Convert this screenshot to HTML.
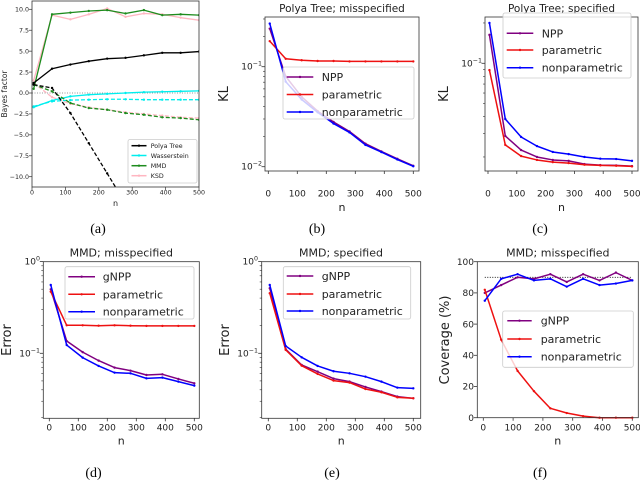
<!DOCTYPE html>
<html><head><meta charset="utf-8"><style>
html,body{margin:0;padding:0;background:#fff;}
svg{display:block;font-family:"DejaVu Sans","Liberation Sans",sans-serif;}
.cap{font-family:"Liberation Serif",serif;font-size:14px;}
</style></head><body>
<svg id="fig" width="640" height="480" viewBox="0 0 640 480" xmlns="http://www.w3.org/2000/svg">
<defs>
<clipPath id="clipA"><rect x="32" y="1" width="167" height="186"/></clipPath>
</defs>
</svg>
<script>
// ---------- data ----------
const N = [5,60,115,170,225,280,335,390,445,500];
// panel (a)
const aPolyaSolid  = [1.2,2.9,3.4,3.8,4.1,4.2,4.5,4.8,4.8,4.95];
const aPolyaDashed = [1.0,0.6,-2.4,-6.0,-9.6,-13.2,-16.8,-20.4,-24.0,-27.6];
const aWassSolid   = [-1.7,-0.9,-0.4,-0.2,-0.1,0.0,0.1,0.15,0.2,0.25];
const aWassDashed  = [-1.6,-1.0,-0.85,-0.8,-0.75,-0.75,-0.8,-0.8,-0.8,-0.8];
const aMmdSolid    = [0.5,9.4,9.6,9.8,9.9,9.5,9.9,9.3,9.4,9.3];
const aMmdDashed   = [1.0,0.2,-1.2,-1.8,-2.0,-2.4,-2.6,-2.9,-3.0,-3.2];
const aKsdSolid    = [1.5,9.3,8.8,9.4,10.1,9.1,9.5,9.4,9.0,8.7];
const aKsdDashed   = [1.2,-0.5,-1.3,-1.7,-2.0,-2.3,-2.5,-2.7,-2.9,-3.0];
const aYTicks = [10,7.5,5,2.5,0,-2.5,-5,-7.5,-10];
const aYTickLabels = ["10.0","7.5","5.0","2.5","0.0","\u22122.5","\u22125.0","\u22127.5","\u221210.0"];
const xTicks = [0,100,200,300,400,500];
// panel (b)
const bNPP  = [0.24,0.08,0.05,0.036,0.028,0.0225,0.017,0.0142,0.012,0.0102];
const bPar  = [0.18,0.12,0.116,0.114,0.114,0.113,0.113,0.113,0.113,0.113];
const bNon  = [0.27,0.071,0.047,0.035,0.027,0.022,0.0165,0.014,0.0118,0.0101];
// panel (c)
const cNPP  = [0.163,0.0287,0.0225,0.020,0.019,0.0187,0.0177,0.0174,0.0173,0.0171];
const cPar  = [0.089,0.0246,0.0203,0.019,0.0183,0.018,0.0175,0.0173,0.0172,0.017];
const cNon  = [0.2,0.0384,0.0282,0.0241,0.0218,0.021,0.020,0.0194,0.0193,0.0187];
// panel (d)
const dNPP  = [0.499,0.136,0.103,0.0832,0.0698,0.0647,0.058,0.059,0.0525,0.0471];
const dPar  = [0.47,0.202,0.202,0.2,0.202,0.2,0.199,0.199,0.199,0.199];
const dNon  = [0.556,0.123,0.0897,0.0728,0.0615,0.0605,0.0533,0.0543,0.0491,0.0444];
// panel (e)
const eNPP  = [0.512,0.111,0.0746,0.0631,0.053,0.0491,0.043,0.0382,0.0337,0.0323];
const ePar  = [0.452,0.109,0.0733,0.0596,0.0504,0.0479,0.0408,0.0376,0.0331,0.0323];
const eNon  = [0.556,0.120,0.0904,0.0728,0.0637,0.0605,0.0556,0.0491,0.0422,0.0415];
// panel (f)
const fNPP  = [80,85,90,89,92,87,92,88,93,88];
const fPar  = [82,50,30,17,6,3,1,0,0,0];
const fNon  = [75,89,92,88,89,84,89,85,86,88];
const fYTicks = [0,20,40,60,80,100];
const fTarget = [90];

// ---------- helpers ----------
const NS = "http://www.w3.org/2000/svg";
const fig = document.getElementById('fig');
function mk(tag, attrs, parent){
  const e = document.createElementNS(NS, tag);
  for (const k in attrs) e.setAttribute(k, attrs[k]);
  (parent||fig).appendChild(e);
  return e;
}
function linX(x0, x1){ return v => x0 + (x1-x0)*v/500; }
function linY(py0, v0, py1, v1){ return v => py0 + (py1-py0)*(v-v0)/(v1-v0); }
function logY(pyRef, decade){ return v => pyRef - decade*Math.log10(v/0.1); }

const PURPLE="#800080", RED="#ee1111", BLUE="#0000ff";

function frame(g, box){
  const r = mk('rect',{x:box.l,y:box.t,width:box.r-box.l,height:box.b-box.t,fill:'none',stroke:'#333','stroke-width':0.8},g);
  
  
}
function xAxis(g, box, X, fs, labelY, nY){
  xTicks.forEach((t,i)=>{
    const x = X(t);
    const tk = mk('line',{x1:x,x2:x,y1:box.b,y2:box.b+3,stroke:'#333','stroke-width':0.8},g);
    
    
    const tl = mk('text',{x:x,y:labelY,'font-size':fs,'text-anchor':'middle',fill:'#222'},g);
    
    
    tl.textContent = String(t);
  });
  const nl = mk('text',{x:(box.l+box.r)/2,y:nY,'font-size':fs+2,'text-anchor':'middle',fill:'#222'},g);
  
  
  nl.textContent = 'n';
}
function logTicks(g, box, Y, majors, minors, labelX, fs){
  majors.forEach(m=>{
    const y = Y(Math.pow(10,m));
    const tk = mk('line',{x1:box.l-3.5,x2:box.l,y1:y,y2:y,stroke:'#333','stroke-width':0.8},g);
    
    
    const tl = mk('text',{x:labelX,y:y+3,'font-size':fs,'text-anchor':'end',fill:'#222'},g);
    
    
    tl.appendChild(document.createTextNode('10'));
    const sp = mk('tspan',{dy:-4,'font-size':fs*0.7},tl);
    sp.textContent = m===0 ? '0' : '\u2212'+(-m);
  });
  minors.forEach(v=>{
    const y = Y(v);
    if (y < box.t || y > box.b) return;
    const tk = mk('line',{x1:box.l-2,x2:box.l,y1:y,y2:y,stroke:'#333','stroke-width':0.6},g);
    
    
  });
}
function series(g, X, Y, vals, color, name, dash, w, clip){
  const d = vals.map((v,i)=>(i?'L':'M')+X(N[i]).toFixed(2)+' '+Y(v).toFixed(2)).join(' ');
  const attrs = {d:d,fill:'none',stroke:color,'stroke-width':w||1.5,'stroke-linejoin':'round'};
  if (dash) attrs['stroke-dasharray']=dash;
  if (clip) attrs['clip-path']=clip;
  const p = mk('path',attrs,g);
  
  
  const mg = mk('g',{fill:color, 'clip-path':clip||''},g);
  
  
  vals.forEach((v,i)=>{
    const c = mk('circle',{cx:X(N[i]),cy:Y(v),r:1.2},mg);
    
    
  });
}
function legend(g, box, rows, entries, hx0, hx1, tx, fs){
  const r = mk('rect',{x:box.l,y:box.t,width:box.r-box.l,height:box.b-box.t,rx:2,fill:'#fff','fill-opacity':0.8,stroke:'#ccc','stroke-width':0.8},g);
  
  
  entries.forEach((en,i)=>{
    const y = rows[i];
    const eg = mk('g',{},g);
    
    
    const ln = mk('line',{x1:hx0,x2:hx1,y1:y,y2:y,stroke:en.color,'stroke-width':1.5},eg);
    
    
    const c = mk('circle',{cx:(hx0+hx1)/2,cy:y,r:1.2,fill:en.color},eg);
    
    
    const t = mk('text',{x:tx,y:y+fs*0.36,'font-size':fs,fill:'#222'},eg);
    
    
    t.textContent = en.label;
  });
}
function title(g, x, y, txt, fs){
  const t = mk('text',{x:x,y:y,'font-size':fs,'text-anchor':'middle',fill:'#222'},g);
  
  
  t.textContent = txt;
}
function ylabel(g, x, y, txt, fs){
  const t = mk('text',{x:x,y:y,'font-size':fs,'text-anchor':'middle',fill:'#222',transform:'rotate(-90 '+x+' '+y+')'},g);
  
  
  t.textContent = txt;
}
function caption(x, y, txt){
  const t = mk('text',{x:x,y:y,'text-anchor':'middle',fill:'#000','class':'cap'});
  
  
  t.textContent = txt;
}
const minorsAll = [];
for (let d=-3; d<=0; d++) for (let k=2;k<=9;k++) minorsAll.push(k*Math.pow(10,d));
const three = [{label:'NPP',color:PURPLE},{label:'parametric',color:RED},{label:'nonparametric',color:BLUE}];
const threeG = [{label:'gNPP',color:PURPLE},{label:'parametric',color:RED},{label:'nonparametric',color:BLUE}];

// ---------- panel (a) ----------
(function(){
  const g = mk('g',{});  
  const box = {l:32,r:199,t:1,b:187};
  const X = linX(32,199), Y = linY(93,0,176.7,-10);
  aYTicks.forEach((t,i)=>{
    const y = Y(t);
    const tk = mk('line',{x1:box.l-3,x2:box.l,y1:y,y2:y,stroke:'#333','stroke-width':0.7},g);
     
    const tl = mk('text',{x:29,y:y+2.2,'font-size':6.3,'text-anchor':'end',fill:'#222'},g);
     
    tl.textContent = aYTickLabels[i];
  });
  xTicks.forEach(t=>{
    const x = X(t);
    const tk = mk('line',{x1:x,x2:x,y1:box.b,y2:box.b+3,stroke:'#333','stroke-width':0.7},g);
     
    const tl = mk('text',{x:x,y:194.5,'font-size':6.3,'text-anchor':'middle',fill:'#222'},g);
     
    tl.textContent = String(t);
  });
  const nl = mk('text',{x:115.5,y:206,'font-size':8,'text-anchor':'middle',fill:'#222'},g);
   
  nl.textContent='n';
  ylabel(g, 7, 94, 'Bayes factor', 7.5);
  const zl = mk('line',{x1:box.l,x2:box.r,y1:Y(0),y2:Y(0),stroke:'#777','stroke-width':0.8,'stroke-dasharray':'1,1.5'},g);
   
  const cl='url(#clipA)';
  series(g,X,Y,aKsdSolid,'#ffb6c1','ksd-line',null,1.3,cl);
  series(g,X,Y,aKsdDashed,'#ffb6c1','ksd-dashed-line','4,2',1.3,cl);
  series(g,X,Y,aWassSolid,'#00eeee','wasserstein-line',null,1.3,cl);
  series(g,X,Y,aWassDashed,'#00eeee','wasserstein-dashed-line','4,2',1.3,cl);
  series(g,X,Y,aMmdSolid,'#1e8c1e','mmd-line',null,1.3,cl);
  series(g,X,Y,aMmdDashed,'#1e8c1e','mmd-dashed-line','4,2',1.3,cl);
  series(g,X,Y,aPolyaSolid,'#000','polya-tree-line',null,1.3,cl);
  series(g,X,Y,aPolyaDashed,'#000','polya-tree-dashed-line','4,2',1.3,cl);
  frame(g,box);
  const lg = mk('g',{},g);  
  legend(lg,{l:128,r:197,t:139.5,b:183},[145.7,155.5,165.7,175.7],
    [{label:'Polya Tree',color:'#000'},{label:'Wasserstein',color:'#00eeee'},{label:'MMD',color:'#1e8c1e'},{label:'KSD',color:'#ffb6c1'}],
    131.5,146.5,150.7,6.3);
})();
caption(98,233,'(a)');

// ---------- panel (b) ----------
(function(){
  const g = mk('g',{});  
  const box = {l:265,r:419,t:17,b:171};
  const X = linX(268.3,413.3), Y = logY(66.7,100);
  logTicks(g,box,Y,[-1,-2],minorsAll,262,9);
  xAxis(g,box,X,9,196.5,211);
  ylabel(g,228,94,'KL',13);
  title(g,342,12,'Polya Tree; misspecified',10.5);
  series(g,X,Y,bNPP,PURPLE,'npp-line');
  series(g,X,Y,bPar,RED,'parametric-line');
  series(g,X,Y,bNon,BLUE,'nonparametric-line');
  frame(g,box);
  const lg = mk('g',{},g);  
  legend(lg,{l:283,r:414,t:67,b:119},[77,94.5,112],three,286.7,313.3,321.7,11);
})();
caption(317,233,'(b)');

// ---------- panel (c) ----------
(function(){
  const g = mk('g',{});  
  const box = {l:485,r:638,t:17,b:171};
  const X = linX(488,632), Y = logY(63.3,134);
  logTicks(g,box,Y,[-1],minorsAll,482,9);
  xAxis(g,box,X,9,196.5,211);
  ylabel(g,448,94,'KL',13);
  title(g,561.5,12,'Polya Tree; specified',10.5);
  series(g,X,Y,cNPP,PURPLE,'npp-line');
  series(g,X,Y,cPar,RED,'parametric-line');
  series(g,X,Y,cNon,BLUE,'nonparametric-line');
  frame(g,box);
  const lg = mk('g',{},g);  
  legend(lg,{l:503,r:631,t:13,b:78},[33.3,50,67.7],three,506.7,533.3,541.7,11);
})();
caption(540,233,'(c)');

// ---------- panel (d) ----------
(function(){
  const g = mk('g',{});  
  const box = {l:43.3,r:199.3,t:261.7,b:418.3};
  const X = linX(49.3,194.3), Y = logY(353.3,91.7);
  logTicks(g,box,Y,[0,-1],minorsAll,40,9);
  xAxis(g,box,X,9,430.5,444.5);
  ylabel(g,11,340,'Error',13);
  title(g,121.3,256.5,'MMD; misspecified',11);
  series(g,X,Y,dNPP,PURPLE,'gnpp-line');
  series(g,X,Y,dPar,RED,'parametric-line');
  series(g,X,Y,dNon,BLUE,'nonparametric-line');
  frame(g,box);
  const lg = mk('g',{},g);  
  legend(lg,{l:65,r:194,t:266.7,b:319},[276.7,294.3,311.7],threeG,68.3,95,102.7,11);
})();
caption(93.5,477,'(d)');

// ---------- panel (e) ----------
(function(){
  const g = mk('g',{});  
  const box = {l:261.7,r:420.7,t:261.7,b:418.3};
  const X = linX(268.3,413.3), Y = logY(353.3,91.7);
  logTicks(g,box,Y,[0,-1],minorsAll,258,9);
  xAxis(g,box,X,9,430.5,444.5);
  ylabel(g,229,340,'Error',13);
  title(g,341,256.5,'MMD; specified',11);
  series(g,X,Y,eNPP,PURPLE,'gnpp-line');
  series(g,X,Y,ePar,RED,'parametric-line');
  series(g,X,Y,eNon,BLUE,'nonparametric-line');
  frame(g,box);
  const lg = mk('g',{},g);  
  legend(lg,{l:283.3,r:410.7,t:266.7,b:319},[276,294,311],threeG,286.7,313.3,321.7,11);
})();
caption(332,477,'(e)');

// ---------- panel (f) ----------
(function(){
  const g = mk('g',{});  
  const box = {l:477.3,r:638.3,t:261.7,b:417.7};
  const X = linX(483.3,632.3), Y = linY(417.7,0,261.7,100);
  fYTicks.forEach(t=>{
    const y = Y(t);
    const tk = mk('line',{x1:box.l-3.5,x2:box.l,y1:y,y2:y,stroke:'#333','stroke-width':0.8},g);
     
    const tl = mk('text',{x:474,y:y+3.2,'font-size':9,'text-anchor':'end',fill:'#222'},g);
     
    tl.textContent = String(t);
  });
  xAxis(g,box,X,9,430.5,444.5);
  ylabel(g,449,340,'Coverage (%)',13);
  title(g,557.8,256.5,'MMD; misspecified',11);
  const tl = mk('line',{x1:X(5),x2:X(500),y1:Y(fTarget[0]),y2:Y(fTarget[0]),stroke:'#000','stroke-width':0.9,'stroke-dasharray':'1,1.5'},g);
   
  series(g,X,Y,fNPP,PURPLE,'gnpp-line');
  series(g,X,Y,fPar,RED,'parametric-line');
  series(g,X,Y,fNon,BLUE,'nonparametric-line');
  frame(g,box);
  const lg = mk('g',{},g);  
  legend(lg,{l:502.7,r:633.3,t:311,b:367.3},[320.7,339,356.7],threeG,507.3,531.7,540.7,11);
})();
caption(540,477,'(f)');
</script>
</body></html>
